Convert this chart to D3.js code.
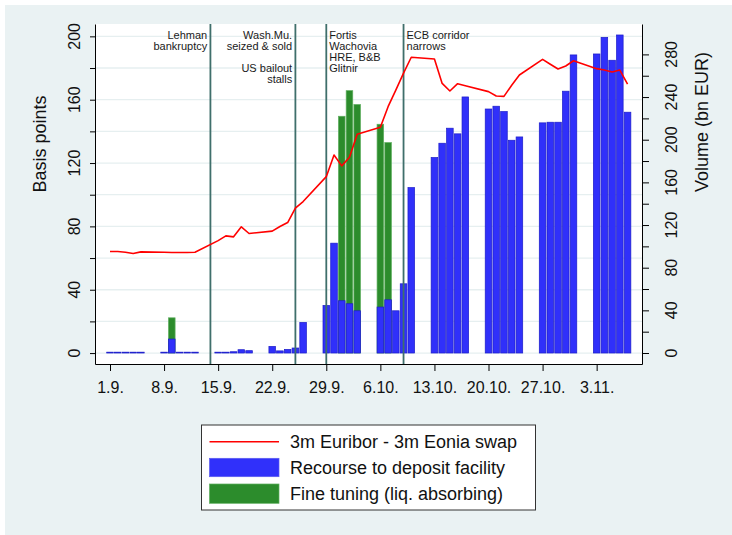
<!DOCTYPE html>
<html>
<head>
<meta charset="utf-8">
<script src="https://cdn.jsdelivr.net/npm/d3@7"></script>
<style>
body{margin:0;background:#fff;}
text{font-family:"Liberation Sans",Arial,Helvetica,sans-serif;}
</style>
</head>
<body>
<script>
// business days, Sep - Nov 2008
const days = [
  "2008-09-01","2008-09-02","2008-09-03","2008-09-04","2008-09-05",
  "2008-09-08","2008-09-09","2008-09-10","2008-09-11","2008-09-12",
  "2008-09-15","2008-09-16","2008-09-17","2008-09-18","2008-09-19",
  "2008-09-22","2008-09-23","2008-09-24","2008-09-25","2008-09-26",
  "2008-09-29","2008-09-30","2008-10-01","2008-10-02","2008-10-03",
  "2008-10-06","2008-10-07","2008-10-08","2008-10-09","2008-10-10",
  "2008-10-13","2008-10-14","2008-10-15","2008-10-16","2008-10-17",
  "2008-10-20","2008-10-21","2008-10-22","2008-10-23","2008-10-24",
  "2008-10-27","2008-10-28","2008-10-29","2008-10-30","2008-10-31",
  "2008-11-03","2008-11-04","2008-11-05","2008-11-06","2008-11-07"
];
// 3m Euribor - 3m Eonia swap (basis points)
const spread = [
  64.1, 64.1, 63.7, 62.9, 63.9,
  63.7, 63.5, 63.5, 63.5, 63.7,
  71.0, 74.0, 73.4, 79.7, 75.5,
  77.0, 79.9, 82.4, 91.5, 95.7,
  111.4, 125.1, 118.2, 123.7, 138.2,
  142.6, 155.6, 166.0, 176.8, 186.8,
  185.7, 170.3, 165.5, 170.1, 168.8,
  165.1, 162.3, 162.1, 169.1, 175.6,
  185.5, 182.4, 179.4, 181.3, 184.6,
  179.6, 178.7, 177.5, 178.7, 169.9
];
// recourse to deposit facility (bn EUR)
const deposit = [
  0.8, 0.8, 0.8, 0.8, 0.8,
  0.8, 13.1, 0.8, 0.8, 0.8,
  0.8, 0.8, 1.2, 3.1, 2.2,
  6.2, 2.0, 3.4, 4.7, 28.7,
  44.6, 103, 49, 46.2, 39.6,
  43.1, 49.9, 39.6, 64.9, 155.1,
  183.3, 196.7, 210.8, 205.5, 240.1,
  228.8, 231.4, 226.4, 199.5, 202.6,
  215.8, 216.4, 216.4, 245.5, 279.5,
  280.4, 296, 274.5, 298.2, 225.8
];
// fine tuning, liquidity absorbing (bn EUR)
const fineTuning = [
  0, 0, 0, 0, 0,
  0, 33, 0, 0, 0,
  0, 0, 0, 0, 0,
  0, 0, 0, 0, 0,
  0, 0, 222, 246, 233,
  214.5, 197.3, 0, 0, 0,
  0, 0, 0, 0, 0,
  0, 0, 0, 0, 0,
  0, 0, 0, 0, 0,
  0, 0, 0, 0, 0
];
const tickDays = ["2008-09-01","2008-09-08","2008-09-15","2008-09-22","2008-09-29",
                  "2008-10-06","2008-10-13","2008-10-20","2008-10-27","2008-11-03"];
const eventDays = ["2008-09-14","2008-09-25","2008-09-29","2008-10-09"];
const eventText = [
  ["Lehman","bankruptcy"],
  ["Wash.Mu.","seized & sold","","US bailout","stalls"],
  ["Fortis","Wachovia","HRE, B&B","Glitnir"],
  ["ECB corridor","narrows"]
];
const eventSide = ["left","left","right","right"];
const leftTicks = [0,20,40,60,80,100,120,140,160,180,200];
const rightTicks = [0,20,40,60,80,100,120,140,160,180,200,220,240,260,280];
const legendLabels = ["3m Euribor - 3m Eonia swap","Recourse to deposit facility","Fine tuning (liq. absorbing)"];

function render(){
  const w = 732, h = 535;
  const left = 95, right = 642, top = 24, bottom = 364;
  const parse = d3.utcParse("%Y-%m-%d");
  const day0 = parse("2008-09-01");
  const dayMs = 864e5;
  const bw = 6.6;

  const rows = days.map((d,i)=>({date:parse(d), spread:spread[i], dep:deposit[i], ft:fineTuning[i]}));

  const x = d3.scaleUtc()
    .domain([new Date(+day0 - 1.942*dayMs), new Date(+day0 + 68.87*dayMs)])
    .range([left, right]);
  const yL = d3.scaleLinear().domain([-6.9, 207.8]).range([bottom, top]);
  const yR = d3.scaleLinear().domain([-10.3, 308.5]).range([bottom, top]);

  const svg = d3.select("body").append("svg")
    .attr("width", w).attr("height", h);

  svg.append("rect").attr("width", w).attr("height", h).attr("fill", "#fff");
  svg.append("rect").attr("x", 5).attr("y", 5).attr("width", w-5).attr("height", h-5).attr("fill", "#eaf2f3");
  svg.append("rect").attr("x", left).attr("y", top).attr("width", right-left).attr("height", bottom-top).attr("fill", "#fff");

  // grid
  svg.append("g").selectAll("line").data(leftTicks).enter().append("line")
    .attr("x1", left).attr("x2", right)
    .attr("y1", d=>yL(d)).attr("y2", d=>yL(d))
    .attr("stroke", "#e6eff0").attr("stroke-width", 1.3);

  // bars: fine tuning behind, deposit facility in front
  svg.append("g").selectAll("rect").data(rows.filter(d=>d.ft>0)).enter().append("rect")
    .attr("x", d=>x(d.date)-bw/2).attr("width", bw)
    .attr("y", d=>yR(d.ft)).attr("height", d=>yR(0)-yR(d.ft))
    .attr("fill", "#2c8c2c").attr("stroke", "#5fae5f").attr("stroke-width", 0.7);

  svg.append("g").selectAll("rect").data(rows).enter().append("rect")
    .attr("x", d=>x(d.date)-bw/2).attr("width", bw)
    .attr("y", d=>yR(d.dep)).attr("height", d=>yR(0)-yR(d.dep))
    .attr("fill", "#3030fa").attr("stroke", "#1c1cc8").attr("stroke-width", 0.7);

  // event lines
  eventDays.forEach((d,i)=>{
    const xe = x(parse(d));
    svg.append("line")
      .attr("x1", xe).attr("x2", xe).attr("y1", top).attr("y2", bottom)
      .attr("stroke", "#3f6f6b").attr("stroke-width", 1.8);
    const t = svg.append("text")
      .attr("font-size", 11).attr("fill", "#1a1a1a")
      .attr("text-anchor", eventSide[i]==="left" ? "end" : "start");
    eventText[i].forEach((s,j)=>{
      t.append("tspan")
        .attr("x", eventSide[i]==="left" ? xe-3.2 : xe+3)
        .attr("y", 38.5 + j*11)
        .text(s);
    });
  });

  // spread line
  const line = d3.line().x(d=>x(d.date)).y(d=>yL(d.spread));
  svg.append("path").datum(rows)
    .attr("d", line).attr("fill", "none")
    .attr("stroke", "#ff0000").attr("stroke-width", 1.6).attr("stroke-linejoin", "round");

  // axes
  const xAxis = d3.axisBottom(x)
    .tickValues(tickDays.map(parse))
    .tickSize(7).tickSizeOuter(0)
    .tickFormat(d3.utcFormat("%-d.%-m."));
  const gx = svg.append("g").attr("transform", "translate(0," + bottom + ")").call(xAxis);
  gx.selectAll("text").attr("y", 29.3).attr("dy", 0).attr("font-size", 16).attr("fill", "#111");

  const gl = svg.append("g").attr("transform", "translate(" + left + ",0)")
    .call(d3.axisLeft(yL).tickValues(leftTicks).tickSize(5).tickSizeOuter(0).tickFormat(""));
  const gr = svg.append("g").attr("transform", "translate(" + right + ",0)")
    .call(d3.axisRight(yR).tickValues(rightTicks).tickSize(7).tickSizeOuter(0).tickFormat(""));
  [gx, gl, gr].forEach(g=>{
    g.select(".domain").attr("stroke", "#000");
    g.selectAll(".tick line").attr("stroke", "#000");
  });

  svg.append("g").selectAll("text").data(leftTicks.filter(d=>d%40===0)).enter().append("text")
    .attr("transform", d=>"translate(80," + yL(d) + ") rotate(-90)")
    .attr("text-anchor", "middle").attr("font-size", 16).attr("fill", "#111")
    .text(d=>d);
  svg.append("g").selectAll("text").data(rightTicks.filter(d=>d%40===0)).enter().append("text")
    .attr("transform", d=>"translate(676.5," + yR(d) + ") rotate(-90)")
    .attr("text-anchor", "middle").attr("font-size", 16).attr("fill", "#111")
    .text(d=>d);

  svg.append("text")
    .attr("transform", "translate(46,144) rotate(-90)")
    .attr("text-anchor", "middle").attr("font-size", 18).attr("fill", "#111")
    .text("Basis points");
  svg.append("text")
    .attr("transform", "translate(708,122) rotate(-90)")
    .attr("text-anchor", "middle").attr("font-size", 18).attr("fill", "#111")
    .text("Volume (bn EUR)");

  // legend
  const lg = svg.append("g");
  lg.append("rect").attr("x", 201.5).attr("y", 425).attr("width", 334).attr("height", 85)
    .attr("fill", "#fff").attr("stroke", "#333").attr("stroke-width", 1);
  lg.append("line").attr("x1", 209.5).attr("x2", 279).attr("y1", 441.7).attr("y2", 441.7)
    .attr("stroke", "#ff0000").attr("stroke-width", 1.6);
  lg.append("rect").attr("x", 209.5).attr("y", 458.3).attr("width", 69.5).attr("height", 18.4)
    .attr("fill", "#3030fa").attr("stroke", "#5c5cf0").attr("stroke-width", 0.7);
  lg.append("rect").attr("x", 209.5).attr("y", 484).attr("width", 69.5).attr("height", 19.3)
    .attr("fill", "#2c8c2c").attr("stroke", "#5fae5f").attr("stroke-width", 0.7);
  lg.selectAll("text.lab").data(legendLabels).enter().append("text")
    .attr("x", 290).attr("y", (d,i)=>448 + i*26)
    .attr("font-size", 18).attr("fill", "#111")
    .text(d=>d);
}

render();
</script>
</body>
</html>
